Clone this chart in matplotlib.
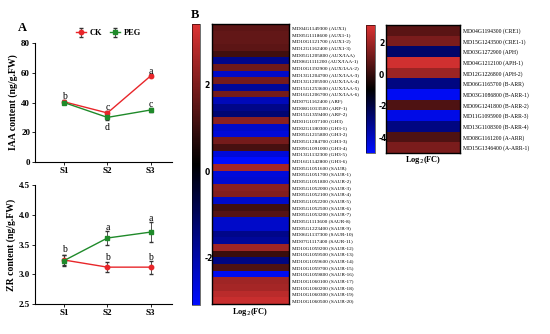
import numpy as np
import matplotlib.pyplot as plt
from matplotlib.colors import LinearSegmentedColormap

# panel A data
stages = ['S1', 'S2', 'S3']
iaa_ck = [40.5, 33, 58]
iaa_ck_err = [1.0, 1.0, 1.0]
iaa_peg = [40, 30, 35]
iaa_peg_err = [1.0, 1.5, 1.5]
iaa_ck_letters = ['b', 'c', 'a']
iaa_peg_letters = ['', 'd', 'c']

zr_ck = [3.24, 3.12, 3.12]
zr_ck_err = [0.09, 0.08, 0.11]
zr_peg = [3.23, 3.61, 3.71]
zr_peg_err = [0.09, 0.11, 0.17]
zr_ck_letters = ['', 'b', 'b']
zr_peg_letters = ['b', 'a', 'a']

# panel B data: auxin pathway genes
aux_genes = ['MD04G1149300 (AUX1)', 'MD05G1118600 (AUX1-1)', 'MD10G1121700 (AUX1-2)',
             'MD12G1162400 (AUX1-3)', 'MD05G1205800 (AUX/IAA)', 'MD06G1111200 (AUX/IAA-1)',
             'MD10G1192900 (AUX/IAA-2)', 'MD13G1204700 (AUX/IAA-3)', 'MD13G1205900 (AUX/IAA-4)',
             'MD15G1253600 (AUX/IAA-5)', 'MD16G1206700 (AUX/IAA-6)', 'MD07G1162400 (ARF)',
             'MD08G1013500 (ARF-1)', 'MD15G1359400 (ARF-2)', 'MD01G1037100 (GH3)',
             'MD02G1180300 (GH3-1)', 'MD05G1215800 (GH3-2)', 'MD05G1284700 (GH3-3)',
             'MD09G1091000 (GH3-4)', 'MD13G1132300 (GH3-5)', 'MD16G1142800 (GH3-6)',
             'MD05G1051600 (SAUR)', 'MD05G1051700 (SAUR-1)', 'MD05G1051800 (SAUR-2)',
             'MD05G1052000 (SAUR-3)', 'MD05G1052100 (SAUR-4)', 'MD05G1052200 (SAUR-5)',
             'MD05G1052500 (SAUR-6)', 'MD05G1053200 (SAUR-7)', 'MD05G1113600 (SAUR-8)',
             'MD05G1223400 (SAUR-9)', 'MD06G1137300 (SAUR-10)', 'MD07G1117400 (SAUR-11)',
             'MD10G1059200 (SAUR-12)', 'MD10G1059500 (SAUR-13)', 'MD10G1059600 (SAUR-14)',
             'MD10G1059700 (SAUR-15)', 'MD10G1059800 (SAUR-16)', 'MD10G1060100 (SAUR-17)',
             'MD10G1060200 (SAUR-18)', 'MD10G1060300 (SAUR-19)', 'MD10G1060500 (SAUR-20)']
aux_fc = [1.5, 1.6, 1.6, 1.5, 1.1, -1.6, 1.8, -2.4, 1.9, -1.8, 1.9, -2.2, -1.6, -1.3,
          2.2, -2.4, -2.6, 1.9, 1.2, -2.6, -3.1, 2.6, -2.6, -2.5, 2.2, 2.1, -2.4, 1.1,
          1.4, -2.4, -2.4, -1.6, -1.8, 2.5, 1.0, -1.5, 1.3, -2.9, 2.5, 2.6, 2.9, 3.1]

# cytokinin pathway genes
ck_genes = ['MD04G1194300 (CRE1)', 'MD15G1243500 (CRE1-1)', 'MD03G1272900 (APH)',
            'MD04G1212100 (APH-1)', 'MD12G1226800 (APH-2)', 'MD06G1165700 (B-ARR)',
            'MD03G1086800 (B-ARR-1)', 'MD09G1241800 (B-ARR-2)', 'MD11G1095900 (B-ARR-3)',
            'MD13G1108300 (B-ARR-4)', 'MD08G1161200 (A-ARR)', 'MD15G1346400 (A-ARR-1)']
ck_fc = [0.7, 1.3, -2.6, 2.9, 1.9, -3.0, -4.8, 0.5, -4.6, -3.0, 0.5, 1.3]

serif = 'Liberation Serif'
red = '#e8262a'
green = '#1f8a2a'
cmap = LinearSegmentedColormap.from_list('bkr', [(0, 0.05, 1), (0, 0, 0), (0.86, 0.2, 0.2)])

fig = plt.figure(figsize=(5.5, 3.34), dpi=100)


def line_panel(rect, ck, ck_err, peg, peg_err, ck_let, peg_let, ylim, yticks, ylabel, fmt, off):
    ax = fig.add_axes(rect)
    x = np.arange(1, len(stages) + 1)
    ax.errorbar(x, ck, yerr=ck_err, color=red, marker='o', ms=3.2, lw=1, capsize=1.5,
                elinewidth=0.6, ecolor='#333333', label='CK')
    ax.errorbar(x, peg, yerr=peg_err, color=green, marker='s', ms=3.2, lw=1, capsize=1.5,
                elinewidth=0.6, ecolor='#333333', label='PEG')
    for i in range(len(stages)):
        if ck_let[i]:
            ax.text(x[i], ck[i] + off[0][i], ck_let[i], ha='center', va='center',
                    fontsize=7, family=serif)
        if peg_let[i]:
            ax.text(x[i], peg[i] + off[1][i], peg_let[i], ha='center', va='center',
                    fontsize=7, family=serif)
    ax.set_xlim(0.33, 3.5)
    ax.set_ylim(*ylim)
    ax.set_yticks(yticks)
    ax.set_yticklabels([fmt.format(v) for v in yticks])
    ax.set_xticks(x)
    ax.set_xticklabels(stages)
    for s in ['top', 'right']:
        ax.spines[s].set_visible(False)
    for s in ['left', 'bottom']:
        ax.spines[s].set_linewidth(0.8)
    ax.tick_params(labelsize=6.5, length=2, width=0.6, pad=1.5)
    for t in ax.get_xticklabels() + ax.get_yticklabels():
        t.set_family(serif)
        t.set_fontweight('bold')
    ax.set_ylabel(ylabel, fontsize=7, family=serif, fontweight='bold', labelpad=2)
    return ax


ax1 = line_panel([0.0636, 0.515, 0.25, 0.356], iaa_ck, iaa_ck_err, iaa_peg, iaa_peg_err,
                 iaa_ck_letters, iaa_peg_letters, (0, 80), [0, 20, 40, 60, 80],
                 'IAA content (ng/g.FW)', '{:.0f}', ([3.5, 3.5, 3.0], [0, -6.5, 4.0]))
ax2 = line_panel([0.0636, 0.0898, 0.25, 0.356], zr_ck, zr_ck_err, zr_peg, zr_peg_err,
                 zr_ck_letters, zr_peg_letters, (2.5, 4.5), [2.5, 3.0, 3.5, 4.0, 4.5],
                 'ZR content (ng/g.FW)', '{:.1f}', ([0, 0.17, 0.17], [0.19, 0.17, 0.22]))

handles, labels = ax1.get_legend_handles_labels()
fig.legend(handles, labels, loc='center', bbox_to_anchor=(0.197, 0.9), ncol=2, frameon=False,
           prop={'family': serif, 'weight': 'bold', 'size': 6}, handlelength=1.2,
           columnspacing=1.0, handletextpad=0.4)

fig.text(0.04, 0.915, 'A', fontsize=9, family=serif, fontweight='bold', ha='center', va='center')
fig.text(0.355, 0.955, 'B', fontsize=9, family=serif, fontweight='bold', ha='center', va='center')


def heat_panel(rect, crect, genes, fc, vmin, vmax, ticks, label_size, title_y):
    ax = fig.add_axes(rect)
    im = ax.imshow(np.array(fc).reshape(-1, 1), cmap=cmap, vmin=vmin, vmax=vmax,
                   aspect='auto', interpolation='nearest')
    ax.set_xticks([])
    ax.yaxis.tick_right()
    ax.set_yticks(range(len(genes)))
    ax.set_yticklabels(genes, fontsize=label_size, family=serif)
    ax.tick_params(axis='y', length=0, pad=2)
    for s in ax.spines.values():
        s.set_linewidth(1.0)
    cax = fig.add_axes(crect)
    cb = fig.colorbar(im, cax=cax, ticks=ticks)
    cb.ax.tick_params(length=0, labelsize=5.5, pad=3)
    cb.set_ticklabels([str(t) for t in ticks])
    for t in cb.ax.get_yticklabels():
        t.set_fontweight('bold')
    cb.outline.set_linewidth(0.4)
    fig.text(rect[0] + rect[2] / 2, title_y, 'Log$_2$(FC)', fontsize=6, family=serif,
             fontweight='bold', ha='center', va='center')
    return ax


heat_panel([0.3855, 0.0898, 0.14, 0.838], [0.349, 0.0868, 0.015, 0.841], aux_genes, aux_fc,
           -3.1, 3.4, [-2, 0, 2], 3.8, 0.065)
heat_panel([0.702, 0.542, 0.1345, 0.383], [0.665, 0.542, 0.0164, 0.383], ck_genes, ck_fc,
           -5.0, 3.1, [-4, -2, 0, 2], 4.1, 0.52)

fig.savefig('out.png', dpi=100)
